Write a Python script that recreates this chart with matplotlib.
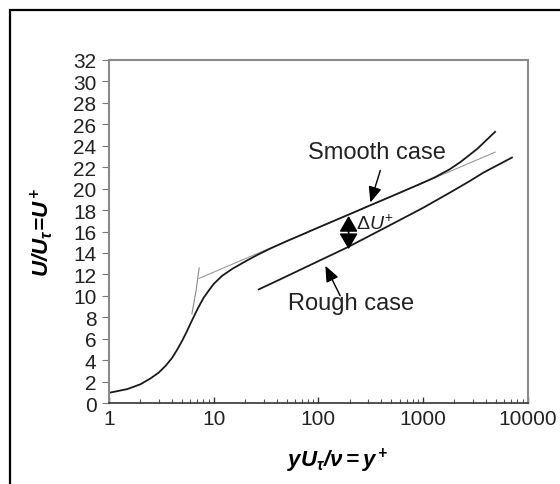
import matplotlib
matplotlib.use("Agg")
import matplotlib.pyplot as plt
from matplotlib.patches import Rectangle
from matplotlib.ticker import FixedLocator, LogLocator, NullFormatter

# --- data ---
smooth_x = [1, 1.5, 2, 2.5, 3, 3.5, 4, 4.5, 5, 5.5, 6, 6.5, 7, 8, 9, 10, 12, 15,
            20, 26, 35, 50, 67, 100, 200, 315, 500, 1000, 1300, 1800, 2300,
            3300, 4900]
smooth_u = [0.95, 1.3, 1.75, 2.3, 2.85, 3.5, 4.2, 5.0, 5.8, 6.6, 7.4, 8.1, 8.75,
            9.8, 10.5, 11.1, 11.85, 12.5, 13.2, 13.8, 14.42, 15.1, 15.63,
            16.37, 17.62, 18.45, 19.28, 20.55, 21.05, 21.8, 22.5, 23.7, 25.3]

rough_x = [27, 40, 67, 100, 188, 300, 610, 1000, 1830, 2800, 3800, 5200, 7100]
rough_u = [10.6, 11.38, 12.42, 13.23, 14.5, 15.53, 17.1, 18.2, 19.65, 20.7, 21.5,
           22.2, 22.9]

loglaw_x = [7.27, 4900]
loglaw_u = [11.63, 23.4]
sublayer_x = [6.2, 6.8, 7.27]
sublayer_u = [8.3, 10.5, 12.6]

yticks = list(range(0, 33, 2))
xticks = [1, 10, 100, 1000, 10000]
xtick_labels = ["1", "10", "100", "1000", "10000"]

# annotation anchors (data coords)
smooth_lbl = (365, 23.4)
smooth_tail, smooth_tip = (392, 21.7), (315, 18.7)
rough_lbl = (208, 9.3)
rough_tail, rough_tip = (162, 10.0), (117, 12.8)
du_x, du_top, du_bot = 195, 17.45, 14.35
du_lbl = (232, 16.8)

plt.rcParams["font.family"] = ["Liberation Sans", "DejaVu Sans"]
plt.rcParams["mathtext.fontset"] = "custom"
plt.rcParams["mathtext.rm"] = "Liberation Sans"
plt.rcParams["mathtext.it"] = "Liberation Sans:italic"
plt.rcParams["mathtext.bf"] = "Liberation Sans:bold:italic"

fig = plt.figure(figsize=(5.6, 4.85), dpi=100)
ax = fig.add_axes([109 / 560, 1 - 404 / 485, (527.5 - 109) / 560, (404 - 61) / 485])

# outer frame (runs off the right and bottom of the picture)
fig.patches.append(Rectangle((10 / 560, -0.1), 1.2, 1 - 11 / 485 + 0.1,
                             transform=fig.transFigure, fill=False,
                             edgecolor="black", linewidth=1.6, clip_on=False))

ax.plot(loglaw_x, loglaw_u, color="#999999", lw=0.8)
ax.plot(sublayer_x, sublayer_u, color="#8a8a8a", lw=0.8)
ax.plot(smooth_x, smooth_u, color="#1a1a1a", lw=1.3)
ax.plot(rough_x, rough_u, color="#1a1a1a", lw=1.3)

ax.set_xscale("log")
ax.set_xlim(1, 10000)
ax.set_ylim(0, 32)
ax.xaxis.set_major_locator(FixedLocator(xticks))
ax.set_xticklabels(xtick_labels)
ax.xaxis.set_minor_locator(LogLocator(base=10, subs=range(2, 10)))
ax.xaxis.set_minor_formatter(NullFormatter())
ax.set_yticks(yticks)

ax.tick_params(axis="x", which="major", direction="in", length=4, width=1,
               color="#333333", labelsize=15, pad=4, labelcolor="#222222")
ax.tick_params(axis="x", which="minor", direction="in", length=3, width=0.8,
               color="#555555")
ax.tick_params(axis="y", direction="out", length=5, width=0.8, color="#777777",
               labelsize=15, pad=4, labelcolor="#222222")

for side in ["left", "right", "top"]:
    ax.spines[side].set_color("#8a8a8a")
    ax.spines[side].set_linewidth(1.5)
ax.spines["bottom"].set_color("#333333")
ax.spines["bottom"].set_linewidth(1.2)

ax.set_xlabel(r"$\mathbf{yU_\tau/\nu=y^+}$", fontsize=16)
ax.xaxis.set_label_coords(0.547, -0.125)
ax.set_ylabel(r"$\mathbf{U/U_\tau\!=\!U^+}$", fontsize=16)
ax.yaxis.set_label_coords(-0.128, 0.5)

arrow = dict(arrowstyle="-|>,head_length=0.6,head_width=0.25", color="black",
             lw=1.0, mutation_scale=16, shrinkA=0, shrinkB=0)
ax.text(*smooth_lbl, "Smooth case", fontsize=17, ha="center", va="center",
        color="#222222")
ax.annotate("", xy=smooth_tip, xytext=smooth_tail, arrowprops=arrow)
ax.text(*rough_lbl, "Rough case", fontsize=17, ha="center", va="center",
        color="#222222")
ax.annotate("", xy=rough_tip, xytext=rough_tail, arrowprops=arrow)
ax.annotate("", xy=(du_x, du_top), xytext=(du_x, du_bot),
            arrowprops=dict(arrowstyle="<|-|>,head_length=0.6,head_width=0.35",
                            color="black", lw=1.2, mutation_scale=16,
                            shrinkA=0, shrinkB=0))
ax.text(*du_lbl, r"$\Delta U^{+}$", fontsize=14, ha="left", va="center",
        color="#222222")

fig.savefig("out.png", dpi=100)
